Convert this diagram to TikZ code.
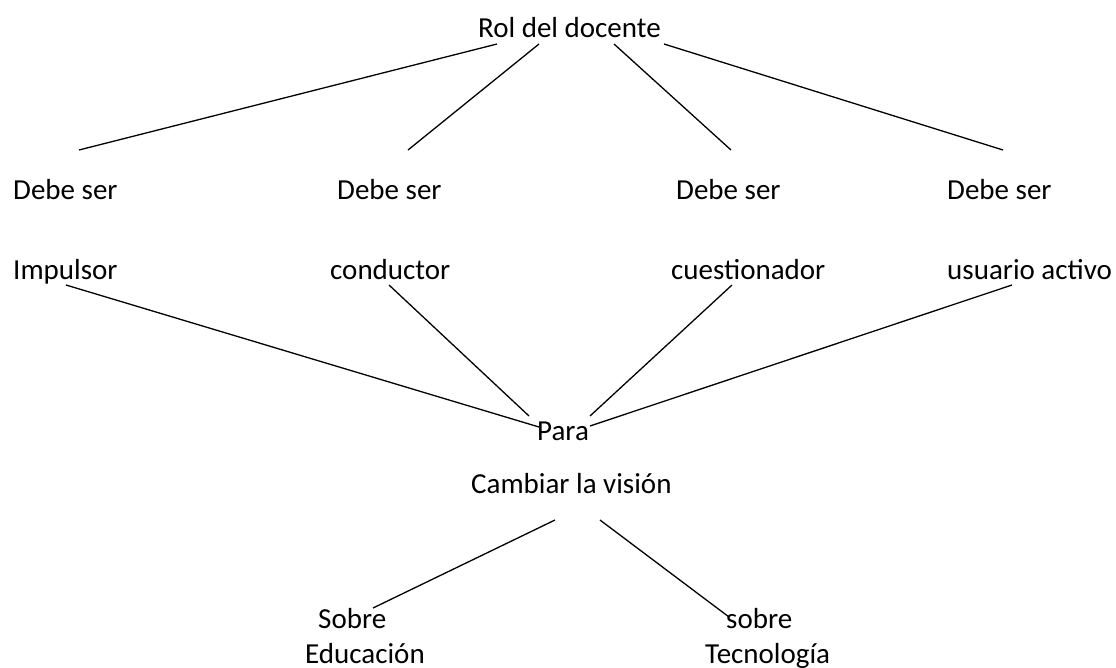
\documentclass[tikz,border=0pt]{standalone}
\usepackage{fontspec}
\setmainfont{Carlito}
\usetikzlibrary{positioning}
\tikzstyle{word} = [inner sep=0pt, 
anchor=base west, 
font=\fontsize{29}{35}\selectfont]
\tikzstyle{link} = [line width=1.3pt, black]

\begin{document}
\begin{tikzpicture}[x=1pt,y=-1pt]
\useasboundingbox (0,0) rectangle (1116,667);

\node (rol) [word] at (478,37) {Rol del docente};
\node (debe1) [word] at (13,199) {Debe ser};
\node (debe2) [word] at (337,199) {Debe ser};
\node (debe3) [word] at (676,199) {Debe ser};
\node (debe4) [word] at (947,199) {Debe ser};
\node (impulsor) [word] at (13,279) {Impulsor};
\node (conductor) [word] at (330,279) {conductor};
\node (cuestionador) [word] at (671,279) {cuestionador};
\node (usuario) [word] at (947,279) {usuario activo};
\node (para) [word] at (537,440) {Para};
\node (cambiar) [word] at (471,493) {Cambiar la visión};
\node (sobre1) [word] at (318,628) {Sobre};
\node (educacion) [word] at (305,663) {Educación};
\node (sobre2) [word] at (726,628) {sobre};
\node (tecnologia) [word] at (705,663) {Tecnología};

% free line ends
\coordinate (rol1) at (497,44);
\coordinate (rol2) at (539,44);
\coordinate (rol3) at (614,44);
\coordinate (rol4) at (664,44);
\coordinate (top1) at (79,150);
\coordinate (top2) at (408,150);
\coordinate (top3) at (731,150);
\coordinate (top4) at (1003,150);
\coordinate (low1) at (66,285);
\coordinate (low2) at (389,285);
\coordinate (low3) at (732,285);
\coordinate (low4) at (1012,285);
\coordinate (para1) at (539,427);
\coordinate (para2) at (529,416);
\coordinate (para3) at (590,416);
\coordinate (para4) at (590,426);
\coordinate (vis1) at (555,520);
\coordinate (vis2) at (600,520);
\coordinate (edu) at (373,608);
\coordinate (tec) at (729,617);

\draw [link] (rol1) -- (top1);
\draw [link] (rol2) -- (top2);
\draw [link] (rol3) -- (top3);
\draw [link] (rol4) -- (top4);
\draw [link] (low1) -- (para1);
\draw [link] (low2) -- (para2);
\draw [link] (low3) -- (para3);
\draw [link] (low4) -- (para4);
\draw [link] (vis1) -- (edu);
\draw [link] (vis2) -- (tec);

\end{tikzpicture}
\end{document}
